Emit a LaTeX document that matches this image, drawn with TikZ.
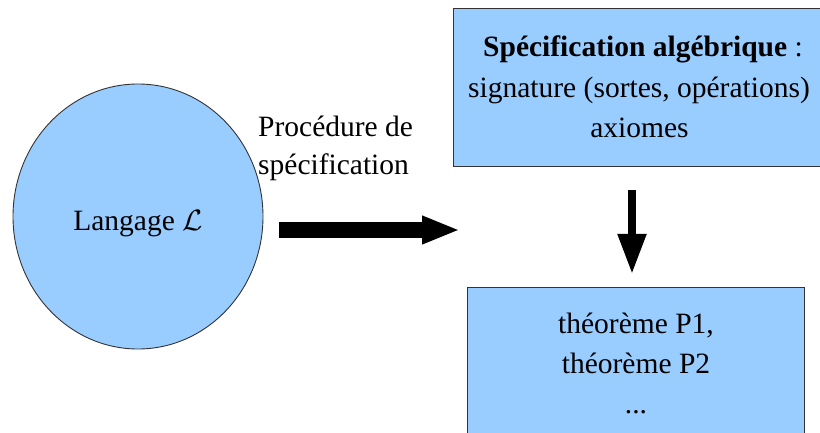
\RequirePackage{fix-cm}
\documentclass[tikz,border=0pt]{standalone}
\usepackage{fontspec}
\setmainfont{Liberation Serif}
\usetikzlibrary{shapes.geometric,arrows.meta}
\definecolor{boxblue}{HTML}{99CCFF}
\definecolor{edge}{HTML}{333333}
\tikzset{
  x=1pt, y=-1pt,
  shapefill/.style={fill=boxblue, draw=edge, line width=0.9pt, inner sep=0pt},
  txt/.style={font=\fontsize{29.5}{40}\selectfont, inner sep=0pt, anchor=base},
}
\begin{document}
\begin{tikzpicture}
\useasboundingbox (0,0) rectangle (820,433);
% shapes
\node[shapefill, ellipse, minimum width=250pt, minimum height=265pt] (lang) at (138,216.5) {};
\node[shapefill, rectangle, minimum width=369pt, minimum height=158pt] (spec) at (637.5,87) {};
\node[shapefill, rectangle, minimum width=337pt, minimum height=153pt] (thm) at (635.5,363.5) {};
% texts
\node[txt] (langtxt) at (138,230) {Langage $\mathcal{L}$};
\node[txt, anchor=base west] (proc1) at (258,137) {Procédure de};
\node[txt, anchor=base west] (proc2) at (258,175) {spécification};
\node[txt] (spec1) at (643,57) {\textbf{Spécification algébrique} :};
\node[txt] (spec2) at (639,98) {signature (sortes, opérations)};
\node[txt] (spec3) at (639.5,138) {axiomes};
\node[txt] (thm1) at (636,333) {théorème P1,};
\node[txt] (thm2) at (636,373) {théorème P2};
\node[txt] (thm3) at (636,413) {...};
% arrows
\coordinate (h1) at (279,230);
\coordinate (h2) at (460,230);
\coordinate (v1) at (632,190);
\coordinate (v2) at (632,274);
\draw[line width=16pt, -{Triangle[width=26pt,length=38pt]}] (h1) -- (h2);
\draw[line width=8pt, -{Triangle[width=27pt,length=40pt]}] (v1) -- (v2);
\end{tikzpicture}
\end{document}
